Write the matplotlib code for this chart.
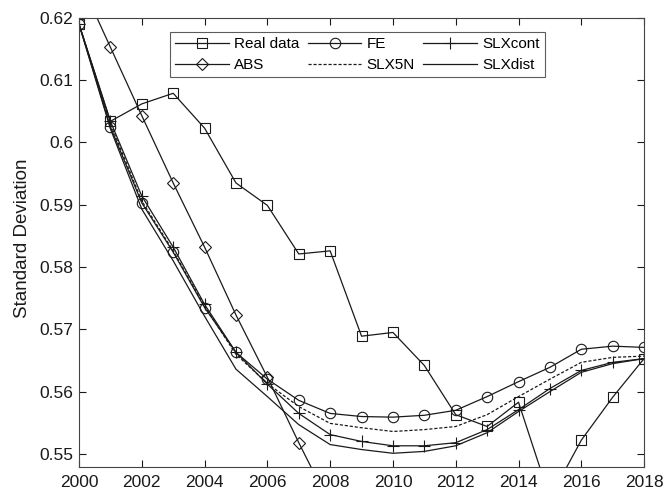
import numpy as np
import matplotlib.pyplot as plt
from matplotlib.ticker import FuncFormatter

plt.rcParams['font.family'] = ['Liberation Sans', 'DejaVu Sans']

# Years
years = np.arange(2000, 2019)
years_abs = np.arange(2000, 2009)

# Series values
real_data = [0.6190, 0.6034, 0.6062, 0.6079, 0.6023, 0.5935, 0.5899, 0.5821, 0.5826, 0.5689,
             0.5695, 0.5642, 0.5563, 0.5544, 0.5583, 0.5429, 0.5522, 0.5591, 0.5653]
fe = [0.6190, 0.6025, 0.5903, 0.5824, 0.5735, 0.5663, 0.5620, 0.5586, 0.5565, 0.5560,
      0.5559, 0.5562, 0.5570, 0.5592, 0.5616, 0.5639, 0.5668, 0.5673, 0.5671]
slx_cont = [0.6190, 0.6034, 0.5914, 0.5832, 0.5740, 0.5663, 0.5612, 0.5565, 0.5531, 0.5520,
            0.5513, 0.5513, 0.5518, 0.5539, 0.5571, 0.5605, 0.5634, 0.5647, 0.5653]
abs_vals = [0.6263, 0.6153, 0.6043, 0.5935, 0.5832, 0.5723, 0.5623, 0.5518, 0.5418]
slx5n = [0.6190, 0.6030, 0.5906, 0.5826, 0.5737, 0.5660, 0.5613, 0.5576, 0.5549, 0.5542,
         0.5536, 0.5539, 0.5544, 0.5563, 0.5592, 0.5620, 0.5647, 0.5655, 0.5657]
slx_dist = [0.6190, 0.6022, 0.5893, 0.5810, 0.5721, 0.5636, 0.5592, 0.5547, 0.5515, 0.5507,
            0.5501, 0.5504, 0.5513, 0.5534, 0.5568, 0.5600, 0.5631, 0.5645, 0.5653]

fig = plt.figure(figsize=(6.64, 4.94), dpi=100)
ax = fig.add_axes([0.119, 0.0547, 0.851, 0.909])

lc = '#1a1a1a'
lw = 0.9
h_real, = ax.plot(years, real_data, color=lc, lw=lw, marker='s', ms=6.5, mfc='none', mew=0.8, label='Real data')
h_fe, = ax.plot(years, fe, color=lc, lw=lw, marker='o', ms=7.5, mfc='none', mew=0.8, label='FE')
h_cont, = ax.plot(years, slx_cont, color=lc, lw=lw, marker='+', ms=8, mew=0.8, label='SLXcont')
h_abs, = ax.plot(years_abs, abs_vals, color=lc, lw=lw, marker='D', ms=6, mfc='none', mew=0.8, label='ABS')
h_5n, = ax.plot(years, slx5n, color=lc, lw=lw, ls=(0, (2.5, 1.5)), label='SLX5N')
h_dist, = ax.plot(years, slx_dist, color=lc, lw=lw, label='SLXdist')

ax.set_xlim(2000, 2018)
ax.set_ylim(0.5479, 0.62)
ax.set_xticks(np.arange(2000, 2019, 2))
ax.set_yticks(np.arange(0.55, 0.6201, 0.01))
ax.yaxis.set_major_formatter(FuncFormatter(lambda v, p: f'{v:g}'))
ax.tick_params(direction='in', length=5, width=0.8, labelsize=12.5, colors='#1a1a1a',
               top=True, right=True)
ax.tick_params(axis='x', pad=6)
ax.tick_params(axis='y', pad=4)
for s in ax.spines.values():
    s.set_linewidth(0.8)
    s.set_color('#444444')
ax.set_ylabel('Standard Deviation', fontsize=13.5, color='#1a1a1a')
ax.yaxis.set_label_coords(-0.085, 0.51)

leg = ax.legend(handles=[h_real, h_abs, h_fe, h_5n, h_cont, h_dist], ncol=3,
                loc='upper left', bbox_to_anchor=(0.161, 0.969), borderaxespad=0,
                fontsize=11, frameon=True, fancybox=False, edgecolor='#333333',
                handlelength=3.5, handletextpad=0.35, columnspacing=0.55,
                labelspacing=0.45, borderpad=0.35)
leg.get_frame().set_linewidth(0.8)

fig.savefig('out.png', dpi=100)
